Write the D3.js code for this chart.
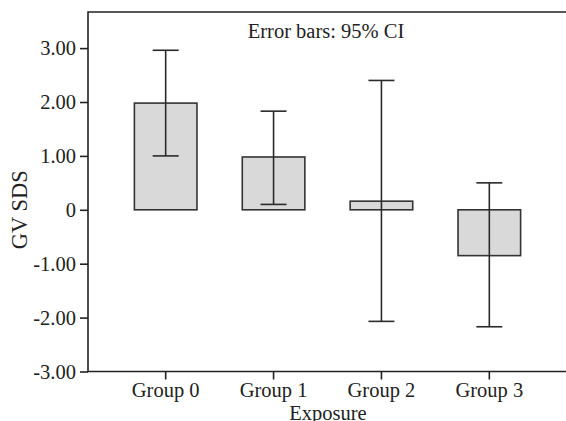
<!DOCTYPE html>
<html>
<head>
<meta charset="utf-8">
<style>
  body { margin: 0; padding: 0; background: #fff; }
  text { font-family: "Liberation Serif", "Times New Roman", serif; fill: #222; }
  .axis .domain { display: none; }
</style>
</head>
<body>
<svg width="566" height="421"></svg>
<script src="https://cdn.jsdelivr.net/npm/d3@7/dist/d3.min.js"></script>
<script>
  // values
  var groups = ["Group 0", "Group 1", "Group 2", "Group 3"];
  var means = [1.98, 0.98, 0.16, -0.85];
  var ciLow = [1.00, 0.10, -2.07, -2.17];
  var ciHigh = [2.96, 1.83, 2.40, 0.50];
  var yTicks = [-3, -2, -1, 0, 1, 2, 3];

  var svg = d3.select("svg"),
    plotLeft = 88, plotRight = 567, plotTop = 12, plotBottom = 371.5;

  var x = d3.scaleBand()
    .domain(groups)
    .range([plotLeft, plotRight])
    .paddingInner(0.42)
    .paddingOuter(0.43);

  var y = d3.scaleLinear()
    .domain([-3, 3.67])
    .range([plotBottom, plotTop]);

  var fmt = function(d) { return d === 0 ? "0" : d3.format(".2f")(d).replace("−", "-"); };

  // bars
  svg.append("g")
    .selectAll("rect")
    .data(groups)
    .enter().append("rect")
    .attr("x", function(d) { return x(d); })
    .attr("width", x.bandwidth())
    .attr("y", function(d, i) { return y(Math.max(0, means[i])); })
    .attr("height", function(d, i) { return Math.abs(y(means[i]) - y(0)); })
    .attr("fill", "#d9d9d9")
    .attr("stroke", "#333")
    .attr("stroke-width", 1.6);

  // error bars
  var eb = svg.append("g")
    .attr("stroke", "#2a2a2a")
    .attr("stroke-width", 1.6)
    .selectAll("g")
    .data(groups)
    .enter().append("g")
    .attr("transform", function(d) { return "translate(" + (x(d) + x.bandwidth() / 2) + ",0)"; });

  eb.append("line")
    .attr("y1", function(d, i) { return y(ciLow[i]); })
    .attr("y2", function(d, i) { return y(ciHigh[i]); });
  eb.append("line")
    .attr("x1", -13).attr("x2", 13)
    .attr("y1", function(d, i) { return y(ciHigh[i]); })
    .attr("y2", function(d, i) { return y(ciHigh[i]); });
  eb.append("line")
    .attr("x1", -13).attr("x2", 13)
    .attr("y1", function(d, i) { return y(ciLow[i]); })
    .attr("y2", function(d, i) { return y(ciLow[i]); });

  // frame: top line, left and bottom axes
  svg.append("path")
    .attr("d", "M" + plotRight + "," + plotTop + "H" + plotLeft + "V" + plotBottom + "H" + plotRight)
    .attr("fill", "none")
    .attr("stroke", "#222")
    .attr("stroke-width", 1.6);

  // y axis
  svg.append("g")
    .attr("class", "axis")
    .attr("transform", "translate(" + plotLeft + ",0)")
    .call(d3.axisLeft(y).tickValues(yTicks).tickFormat(fmt).tickSize(8).tickPadding(4))
    .call(function(g) {
      g.selectAll("line").attr("stroke", "#222").attr("stroke-width", 1.6);
      g.selectAll("text").attr("font-size", "20.5px").attr("font-family", null).attr("fill", "#222");
    });

  // x axis
  svg.append("g")
    .attr("class", "axis")
    .attr("transform", "translate(0," + plotBottom + ")")
    .call(d3.axisBottom(x).tickSize(8).tickPadding(3))
    .call(function(g) {
      g.selectAll("line").attr("stroke", "#222").attr("stroke-width", 1.6);
      g.selectAll("text").attr("font-size", "20.5px").attr("font-family", null).attr("fill", "#222");
    });

  // titles
  svg.append("text")
    .attr("x", (plotLeft + plotRight) / 2 + 0.5)
    .attr("y", 420)
    .attr("text-anchor", "middle")
    .style("font-size", "20.5px")
    .text("Exposure");

  svg.append("text")
    .attr("transform", "translate(27," + y(0) + ") rotate(-90)")
    .attr("text-anchor", "middle")
    .style("font-size", "22.5px")
    .text("GV SDS");

  svg.append("text")
    .attr("x", 326)
    .attr("y", 38)
    .attr("text-anchor", "middle")
    .style("font-size", "20.5px")
    .text("Error bars: 95% CI");
</script>
</body>
</html>
